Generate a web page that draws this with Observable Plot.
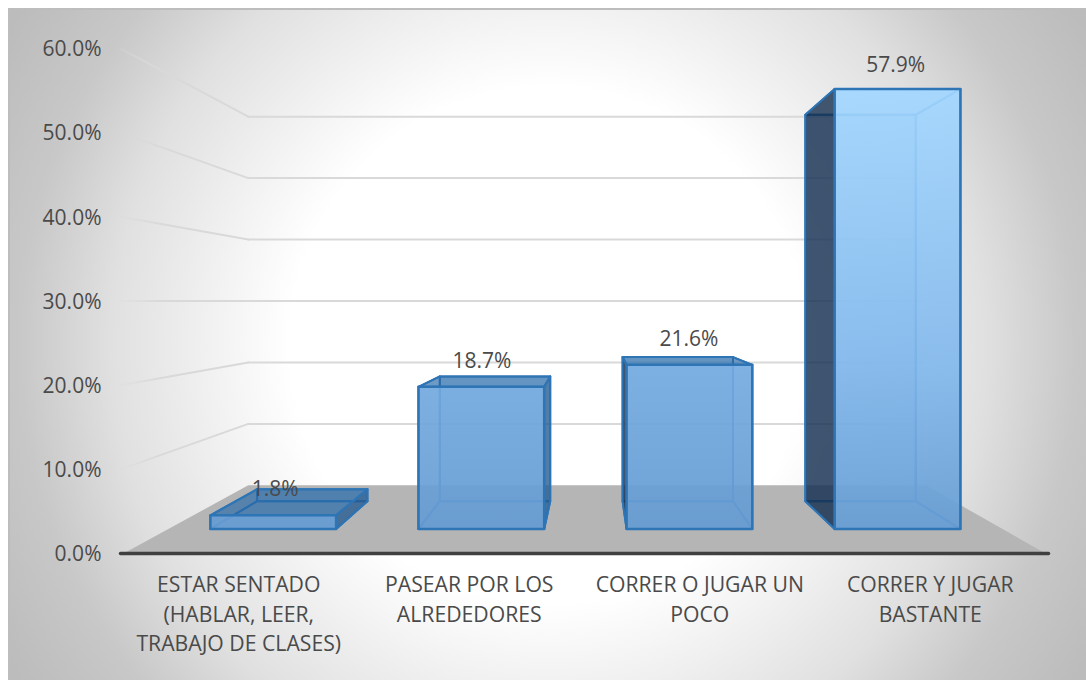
<!DOCTYPE html>
<html lang="es">
<head>
<meta charset="utf-8">
<script src="https://cdn.jsdelivr.net/npm/d3@7"></script>
<script src="https://cdn.jsdelivr.net/npm/@observablehq/plot@0.6"></script>
<style>
html,body{margin:0;padding:0;background:#fff;width:1086px;height:680px;overflow:hidden}
#bg{position:absolute;left:8px;top:8px;width:1078px;height:672px;box-sizing:border-box;border-top:2px solid #bdbdbd;border-left:2px solid #bdbdbd;
background:radial-gradient(circle 600px at 50% 50%,#ffffff 43%,#e0e0e0 73%,#c8c8c8 88%,#bcbcbc 104%)}
#chart{position:absolute;left:0;top:0}
</style>
</head>
<body>
<div id="bg"></div>
<div id="chart"></div>
<script>
const categories = ["ESTAR SENTADO\n(HABLAR, LEER,\nTRABAJO DE CLASES)", "PASEAR POR LOS\nALREDEDORES", "CORRER O JUGAR UN\nPOCO", "CORRER Y JUGAR\nBASTANTE"];
const values = [1.8, 18.7, 21.6, 57.9];
const valueTicks = [0, 10, 20, 30, 40, 50, 60];

// oblique view of the Excel 3-D chart: category units across, percent up, depth 0 (front) to 1 (back wall)
const eyeX = 2.04, eyeV = 30, shrink = 0.27;
const barInset = 0.198, depthFront = 0.36, depthBack = 0.767, wallOver = 0.013;
const k = d => 1 - shrink * d;
const pt = (id, x, v, d) => ({id, x: eyeX + (x - eyeX) * k(d), v: eyeV + (v - eyeV) * k(d)});
const face = (id, corners) => [...corners, corners[0]].map(([x, v, d]) => pt(id, x, v, d));

const box = values.map((v, i) => ({i, v, x0: i + barInset, x1: i + 1 - barInset, outerLeft: i + 0.5 > eyeX}));
const backFaces = box.flatMap(b => face("b" + b.i, [[b.x0, 0, depthBack], [b.x1, 0, depthBack], [b.x1, b.v, depthBack], [b.x0, b.v, depthBack]]));
const floorFaces = box.flatMap(b => face("f" + b.i, [[b.x0, 0, depthFront], [b.x1, 0, depthFront], [b.x1, 0, depthBack], [b.x0, 0, depthBack]]));
const side = (b, x) => face("s" + b.i + x, [[x, 0, depthFront], [x, b.v, depthFront], [x, b.v, depthBack], [x, 0, depthBack]]);
const innerSides = box.flatMap(b => side(b, b.outerLeft ? b.x1 : b.x0));
const outerLeft = box.filter(b => b.outerLeft).flatMap(b => side(b, b.x0));
const outerRight = box.filter(b => !b.outerLeft).flatMap(b => side(b, b.x1));
const topFace = b => face("t" + b.i, [[b.x0, b.v, depthFront], [b.x1, b.v, depthFront], [b.x1, b.v, depthBack], [b.x0, b.v, depthBack]]);
const topsSeen = box.filter(b => b.v < eyeV).flatMap(topFace);
const topsUnder = box.filter(b => b.v >= eyeV).flatMap(topFace);
const frontFace = b => face("c" + b.i, [[b.x0, 0, depthFront], [b.x1, 0, depthFront], [b.x1, b.v, depthFront], [b.x0, b.v, depthFront]]);
const frontLow = box.filter(b => b.v < eyeV).flatMap(frontFace);
const frontTall = box.filter(b => b.v >= eyeV).flatMap(frontFace);

const floor = face("floor", [[0, 0, 0], [4, 0, 0], [4 + wallOver, 0, 1], [-wallOver, 0, 1]]);
const wallSide = valueTicks.filter(t => t > 0).flatMap(t => [pt("w" + t, -wallOver, t, 0), pt("w" + t, -wallOver, t, 1)]);
const wallBack = valueTicks.filter(t => t > 0).flatMap(t => [pt("g" + t, -wallOver, t, 1), pt("g" + t, 4, t, 1)]);
const baseLine = [pt("base", -wallOver, 0, 0), pt("base", 4 + wallOver, 0, 0)];
const barLabels = box.map(b => ({...pt("l", b.i + 0.5, b.v, 0.38), text: b.v.toFixed(1) + "%"}));
const catLabels = categories.map((c, i) => ({x: i + 0.5, v: 0, text: c}));

const edge = "#2e75b6", ink = "#4a4a4a";
const defs = () => d3.create("svg:defs").html(`
  <linearGradient id="frontTall" gradientUnits="userSpaceOnUse" x1="0" y1="88" x2="0" y2="528">
    <stop offset="0" stop-color="#a3d7ff"/><stop offset="0.63" stop-color="#82b8ec"/><stop offset="1" stop-color="#669dd4"/>
  </linearGradient>
  <linearGradient id="frontLow" gradientUnits="userSpaceOnUse" x1="0" y1="360" x2="0" y2="528">
    <stop offset="0" stop-color="#75abe1"/><stop offset="1" stop-color="#659bd2"/>
  </linearGradient>
  <linearGradient id="wallFade" gradientUnits="userSpaceOnUse" x1="120" y1="0" x2="248" y2="0">
    <stop offset="0" stop-color="#d9d9d9" stop-opacity="0.2"/><stop offset="0.3" stop-color="#d9d9d9"/><stop offset="1" stop-color="#d9d9d9"/>
  </linearGradient>`).node();
const poly = (data, o) => Plot.line(data, {x: "x", y: "v", z: "id", curve: "linear", stroke: edge, strokeWidth: 2, strokeLinejoin: "round", ...o});

const chart = Plot.plot({
  width: 1086, height: 680,
  marginLeft: 123, marginRight: 41, marginTop: 48, marginBottom: 127,
  x: {domain: [0, 4], axis: null},
  y: {domain: [0, 60], axis: null},
  style: {background: "transparent", fontFamily: "'Open Sans', sans-serif", fontSize: "21px", color: ink},
  marks: [
    defs,
    Plot.line(wallSide, {x: "x", y: "v", z: "id", stroke: "url(#wallFade)", strokeWidth: 2}),
    Plot.line(wallBack, {x: "x", y: "v", z: "id", stroke: "#d9d9d9", strokeWidth: 2}),
    Plot.line(floor, {x: "x", y: "v", z: "id", fill: "#b5b5b5", stroke: "none", curve: "linear"}),
    Plot.axisY({ticks: valueTicks, tickSize: 0, tickPadding: 22, tickFormat: d => d.toFixed(1) + "%", label: null, fontSize: 21, fill: ink, dy: 1}),
    poly(backFaces, {fill: "#5b9bd5", fillOpacity: 0.2}),
    poly(floorFaces, {fill: "#5b9bd5", fillOpacity: 0.12}),
    poly(innerSides, {}),
    poly(topsUnder, {}),
    poly(outerLeft, {fill: "#122a4a", fillOpacity: 0.78}),
    poly(outerRight, {fill: "#23588f", fillOpacity: 0.75}),
    poly(topsSeen, {fill: "#2a6aa8", fillOpacity: 0.68}),
    poly(frontLow, {fill: "url(#frontLow)", fillOpacity: 0.92, strokeWidth: 2.5}),
    poly(frontTall, {fill: "url(#frontTall)", fillOpacity: 0.92, strokeWidth: 2.5}),
    Plot.line(baseLine, {x: "x", y: "v", z: "id", stroke: "#404040", strokeWidth: 3.5, strokeLinecap: "round"}),
    Plot.text(barLabels, {x: "x", y: "v", text: "text", dy: -25, fontSize: 21, fill: ink}),
    Plot.text(catLabels, {x: "x", y: "v", text: "text", dy: 18, lineAnchor: "top", lineHeight: 1.39, fontSize: 21.2, fill: ink})
  ]
});
document.getElementById("chart").appendChild(chart);
</script>
</body>
</html>
